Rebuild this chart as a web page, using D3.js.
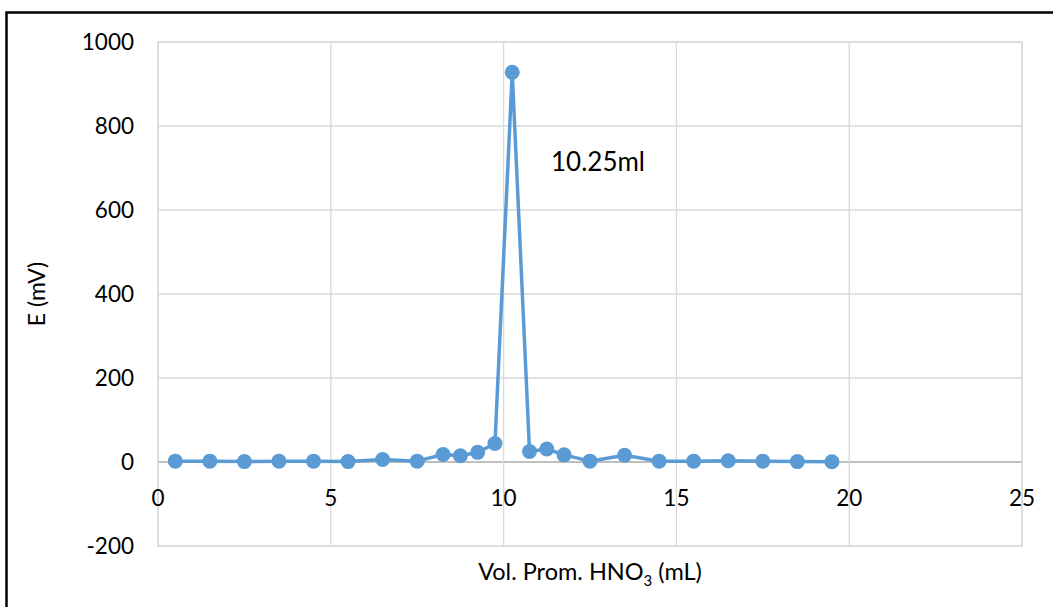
<!DOCTYPE html>
<html><head><meta charset="utf-8">
<script src="https://cdn.jsdelivr.net/npm/d3@7"></script>
<style>body{margin:0;background:#fff;} text{font-family:Lato,"Open Sans",sans-serif;fill:#000;}</style>
</head><body>
<svg id="c" width="1053" height="607"></svg>
<script>
const xVals = [0.5,1.5,2.5,3.5,4.5,5.5,6.5,7.5,8.25,8.75,9.25,9.75,10.25,10.75,11.25,11.75,12.5,13.5,14.5,15.5,16.5,17.5,18.5,19.5];
const yVals = [2,2,1,2,2,1,6,2,18,15,23,44,928,25,31,17,2,16,2,2,3,2,1,0.5];
const xTicks = [0,5,10,15,20,25];
const yTicks = [-200,0,200,400,600,800,1000];
const annotation = "10.25ml";

const svg = d3.select("#c");
const L=158,R=1022,T=42,B=546;
const x = d3.scaleLinear().domain([0,25]).range([L,R]);
const y = d3.scaleLinear().domain([-200,1000]).range([B,T]);

svg.append("rect").attr("x",6.5).attr("y",12.5).attr("width",1060).attr("height",620).attr("fill","none").attr("stroke","#000").attr("stroke-width",2.5);

// grid
svg.append("g").selectAll("line").data(yTicks).join("line")
  .attr("x1",L).attr("x2",R).attr("y1",d=>y(d)).attr("y2",d=>y(d))
  .attr("stroke",d=>d===0?"#bfbfbf":"#d9d9d9").attr("stroke-width",d=>d===0?2:1.3);
svg.append("g").selectAll("line").data(xTicks).join("line")
  .attr("y1",T).attr("y2",B).attr("x1",d=>x(d)).attr("x2",d=>x(d))
  .attr("stroke","#d9d9d9").attr("stroke-width",1.3);
svg.append("rect").attr("x",L).attr("y",T).attr("width",R-L).attr("height",B-T).attr("fill","none").attr("stroke","#d9d9d9").attr("stroke-width",1.3);

// tick labels
svg.append("g").selectAll("text").data(yTicks).join("text")
  .attr("x",134).attr("y",d=>y(d)+8).attr("text-anchor","end").attr("font-size",22.5).text(d=>d);
svg.append("g").selectAll("text").data(xTicks).join("text")
  .attr("x",d=>x(d)).attr("y",y(0)+44).attr("text-anchor","middle").attr("font-size",22.5).text(d=>d);

// axis titles
const xt = svg.append("text").attr("x",(L+R)/2).attr("y",580).attr("text-anchor","middle").attr("font-size",23.5);
xt.append("tspan").text("Vol. Prom. HNO");
xt.append("tspan").attr("font-size",15).attr("dy",6).text("3");
xt.append("tspan").attr("dy",-6).text(" (mL)");
svg.append("text").attr("transform",`translate(45,${(T+B)/2}) rotate(-90)`).attr("text-anchor","middle").attr("font-size",23).text("E (mV)");

// line
const data = xVals.map((v,i)=>[v,yVals[i]]);
svg.append("path").datum(data).attr("fill","none").attr("stroke","#5B9BD5").attr("stroke-width",3.5).attr("stroke-linejoin","round")
  .attr("d",d3.line().x(d=>x(d[0])).y(d=>y(d[1])));
svg.append("g").selectAll("circle").data(data).join("circle")
  .attr("cx",d=>x(d[0])).attr("cy",d=>y(d[1])).attr("r",7.5).attr("fill","#5B9BD5");

svg.append("text").attr("x",551).attr("y",171).attr("font-size",26).text(annotation);
</script>
</body></html>
